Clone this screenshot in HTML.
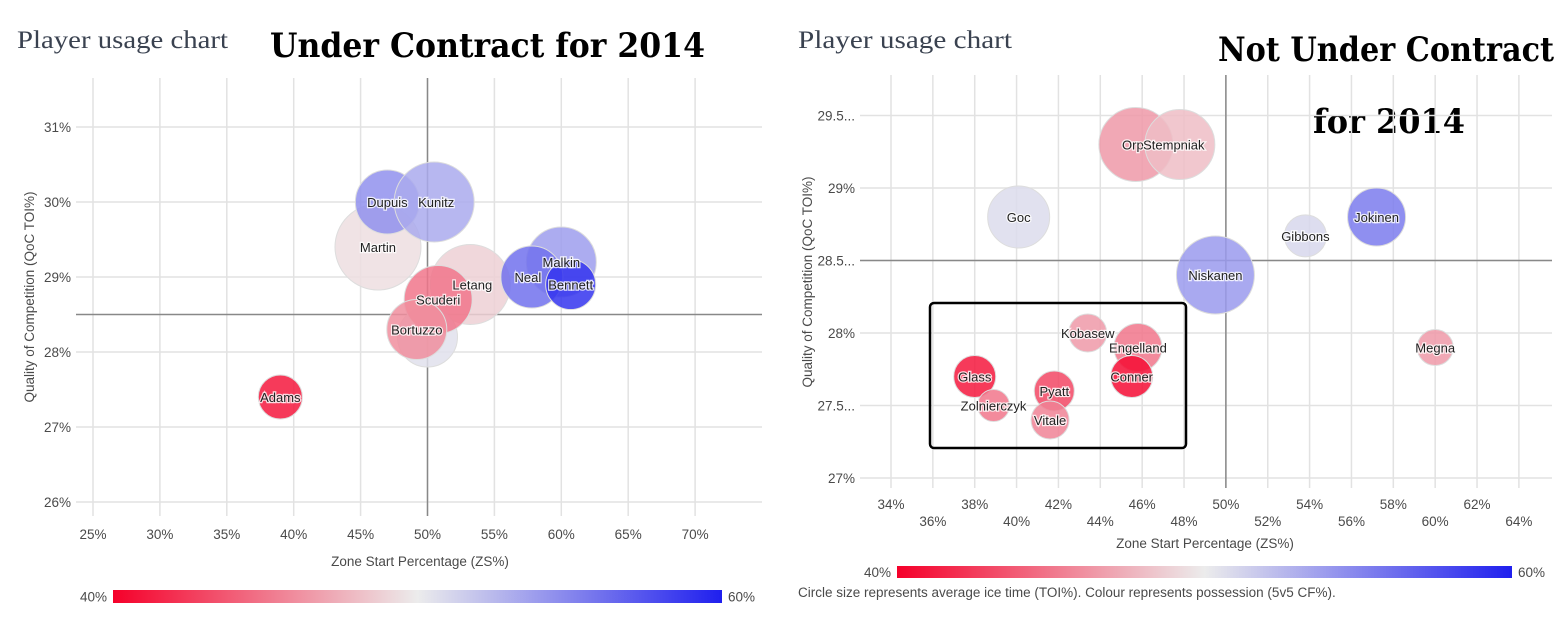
<!DOCTYPE html>
<html><head><meta charset="utf-8"><style>
html,body{margin:0;padding:0;background:#fff;}
svg{display:block;}
.tick{font:13.5px "Liberation Sans",sans-serif;fill:#4a4a4a;}
.lbl{font:13px "Liberation Sans",sans-serif;fill:#222;paint-order:stroke;stroke:#fff;stroke-width:2.5px;stroke-opacity:0.8;}
</style></head><body>
<svg id="s" width="1554" height="630" viewBox="0 0 1554 630" xmlns="http://www.w3.org/2000/svg">
<defs><linearGradient id="cg" x1="0" x2="1" y1="0" y2="0">
<stop offset="0" stop-color="#f5002a"/><stop offset="0.5" stop-color="#ececec"/><stop offset="1" stop-color="#1f1fee"/></linearGradient></defs>
<text x="17" y="48" font-family="Liberation Serif,serif" font-size="25" fill="#3a4250" textLength="211" lengthAdjust="spacingAndGlyphs">Player usage chart</text>
<text x="270" y="57" font-family="DejaVu Serif,serif" font-weight="bold" font-size="34" fill="#000" textLength="435" lengthAdjust="spacingAndGlyphs">Under Contract for 2014</text>
<text x="798" y="48" font-family="Liberation Serif,serif" font-size="25" fill="#3a4250" textLength="214" lengthAdjust="spacingAndGlyphs">Player usage chart</text>
<text x="1218" y="61" font-family="DejaVu Serif,serif" font-weight="bold" font-size="34" fill="#000" textLength="336" lengthAdjust="spacingAndGlyphs">Not Under Contract</text>
<text x="1313" y="133" font-family="DejaVu Serif,serif" font-weight="bold" font-size="34" fill="#000" textLength="152" lengthAdjust="spacingAndGlyphs">for 2014</text>
<g id="L"></g><g id="R"></g>
</svg>
<script>
// Left chart data
const leftNames=["Adams","Martin","Dupuis","Kunitz","Letang","","Scuderi","Bortuzzo","Malkin","Neal","Bennett"];
const leftZS=[39,46.3,47,50.5,53.2,50,50.8,49.2,60,57.8,60.7];
const leftQoC=[27.4,29.4,30.0,30.0,28.9,28.2,28.7,28.3,29.2,29.0,28.9];
const leftTOI=[11,21.5,16,20,20,15,17,15,17.5,15.5,12.5];
const leftCF=[41,49.4,54.5,53.2,48.8,50.6,45,46,53.8,56,59];
const leftXTicks=[25,30,35,40,45,50,55,60,65,70];
const leftYTicks=[26,27,28,29,30,31];
// Right chart data
const rightNames=["Orp","Stempniak","Goc","Gibbons","Jokinen","Niskanen","Kobasew","Engelland","Megna","Glass","Conner","Pyatt","Zolnierczyk","Vitale"];
const rightZS=[45.7,47.8,40.1,53.8,57.2,49.5,43.4,45.8,60,38.0,45.5,41.8,38.9,41.6];
const rightQoC=[29.3,29.3,28.8,28.67,28.8,28.4,28.0,27.9,27.9,27.7,27.7,27.6,27.5,27.4];
const rightTOI=[18.5,17.5,15.5,10.5,14.5,19.5,9.5,12,9,10.5,10.5,10,8,9.5];
const rightCF=[46.5,48,50.8,51,55.5,54,46.5,45,46.5,41,40.5,43,45,45.5];
const rightXTicks=[34,36,38,40,42,44,46,48,50,52,54,56,58,60,62,64];
const rightYTicks=[27,27.5,28,28.5,29,29.5];
const rightYLabels=["27%","27.5...","28%","28.5...","29%","29.5..."];

const NS="http://www.w3.org/2000/svg";
function mk(p,t,a){const e=document.createElementNS(NS,t);for(const k in a)e.setAttribute(k,a[k]);p.appendChild(e);return e;}
function col(cf){const t=Math.max(0,Math.min(1,(cf-40)/20));
 let a,b,u;if(t<0.5){a=[245,0,42];b=[236,236,236];u=t/0.5;}else{a=[236,236,236];b=[31,31,238];u=(t-0.5)/0.5;}
 return "rgb("+a.map((v,i)=>Math.round(v+(b[i]-v)*u)).join(",")+")";}

function chart(g,o){
 const X=v=>o.x0+(v-o.xv0)*o.xs, Y=v=>o.y0-(v-o.yv0)*o.ys;
 o.xt.forEach((v,i)=>{
  const l=mk(g,"line",{x1:X(v),x2:X(v),y1:o.top,y2:o.bot,stroke:"#e2e2e2","stroke-width":1.5});
  
  
  const t=mk(g,"text",{x:X(v),y:o.xly(i),"text-anchor":"middle",class:"tick"});t.textContent=v+"%";
  
  
 });
 o.yt.forEach((v,i)=>{
  const l=mk(g,"line",{x1:o.left,x2:o.right,y1:Y(v),y2:Y(v),stroke:"#e2e2e2","stroke-width":1.5});
  
  
  const t=mk(g,"text",{x:o.left-5,y:Y(v)+5,"text-anchor":"end",class:"tick"});t.textContent=o.yl?o.yl[i]:v+"%";
  
  
 });
 const mv=mk(g,"line",{x1:X(50),x2:X(50),y1:o.top,y2:o.bot,stroke:"#888","stroke-width":1.5});
 
 
 const mh=mk(g,"line",{x1:o.left,x2:o.right,y1:Y(28.5),y2:Y(28.5),stroke:"#888","stroke-width":1.5});
 
 
 o.n.forEach((nm,i)=>{
  const c=mk(g,"circle",{cx:X(o.zs[i]),cy:Y(o.q[i]),r:o.toi[i]*2,fill:col(o.cf[i]),"fill-opacity":0.85,stroke:"#ddd","stroke-width":1});
  
  
 });
 o.n.forEach((nm,i)=>{ if(!nm)return;
  const t=mk(g,"text",{x:X(o.zs[i])+(o.dx?o.dx[i]:0),y:Y(o.q[i])+5+(o.dy?o.dy[i]:0),"text-anchor":"middle",class:"lbl"});t.textContent=nm;
  
  
 });
 const at=mk(g,"text",{x:o.axx,y:o.axy,"text-anchor":"middle",class:"tick",fill:"#444"});at.textContent="Zone Start Percentage (ZS%)";
 
 
 const yt=mk(g,"text",{x:0,y:0,"text-anchor":"middle",class:"tick",transform:"translate("+o.ayx+","+o.ayy+") rotate(-90)"});yt.textContent="Quality of Competition (QoC TOI%)";
 
 
 const cb=mk(g,"rect",{x:o.cb[0],y:o.cb[1],width:o.cb[2],height:o.cb[3],fill:"url(#cg)"});
 
 
 const c1=mk(g,"text",{x:o.cb[0]-6,y:o.cb[1]+o.cb[3]/2+5,"text-anchor":"end",class:"tick",fill:"#333"});c1.textContent="40%";
 
 
 const c2=mk(g,"text",{x:o.cb[0]+o.cb[2]+6,y:o.cb[1]+o.cb[3]/2+5,class:"tick",fill:"#333"});c2.textContent="60%";
 
 
}
const L=document.getElementById("L"),R=document.getElementById("R");
chart(L,{n:leftNames,zs:leftZS,q:leftQoC,toi:leftTOI,cf:leftCF,xt:leftXTicks,yt:leftYTicks,
 x0:93,xv0:25,xs:13.38,y0:502,yv0:26,ys:75,left:76,right:762,top:78,bot:516,xly:()=>539,
 dx:[0,0,0,2,2,0,0,0,0,-4,0],dy:[0,0,0,0,0,0,0,0,0,0,0],
 axx:420,axy:566,ayx:34,ayy:297,cb:[113,590,609,13]});
chart(R,{n:rightNames,zs:rightZS,q:rightQoC,toi:rightTOI,cf:rightCF,xt:rightXTicks,yt:rightYTicks,yl:rightYLabels,
 x0:891,xv0:34,xs:20.93,y0:478,yv0:27,ys:145,left:860,right:1552,top:75,bot:488,xly:i=>i%2?526:509,
 dx:[-3,-6,0,0,0,0,0,0,0,0,0,0,0,0],dy:[0,0,0,0,0,0,0,0,0,0,0,0,0,0],
 axx:1205,axy:548,ayx:812,ayy:282,cb:[897,566,615,12]});
const cap=mk(R,"text",{x:798,y:597,class:"tick",fill:"#444"});cap.textContent="Circle size represents average ice time (TOI%). Colour represents possession (5v5 CF%).";


const box=mk(R,"rect",{x:930,y:303,width:256,height:145,rx:4,fill:"none",stroke:"#000","stroke-width":2.5});


</script>
</body></html>
